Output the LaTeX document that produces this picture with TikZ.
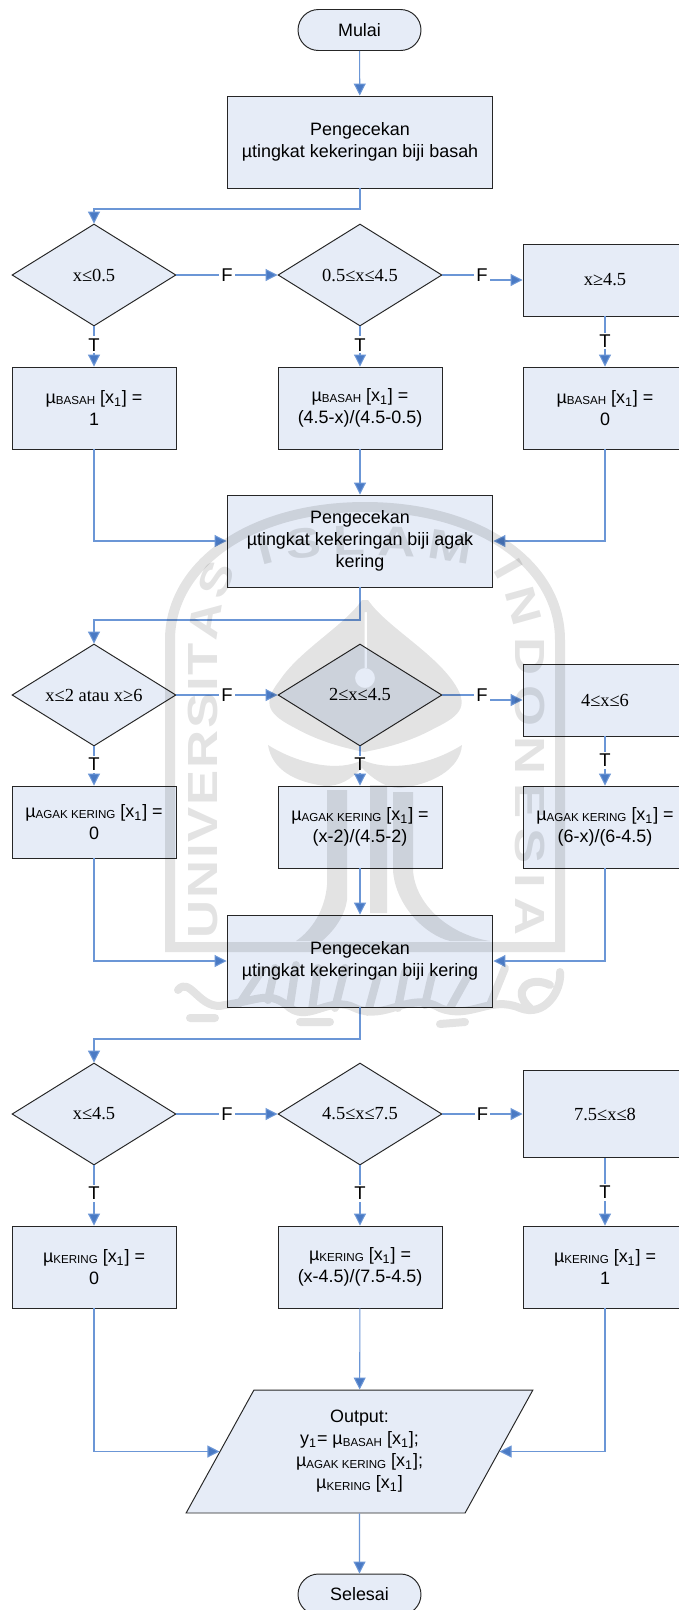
\documentclass[tikz,border=0pt]{standalone}
\usepackage{fontspec}
\usepackage{xcolor}
\setmainfont{Liberation Sans}
\newfontfamily\serifcond{Liberation Serif}
\newfontfamily\wmfam[FakeStretch=1.25]{Liberation Sans}
\usetikzlibrary{shapes,shapes.misc,shapes.geometric,arrows.meta,positioning,calc,decorations.text}
\definecolor{boxfill}{HTML}{E6ECF7}
\definecolor{flowblue}{HTML}{6B96D6}
\definecolor{tipblue}{HTML}{4A7AC4}
\newcommand{\mufx}[1]{µ\raisebox{-0.7pt}{\fontsize{6.6}{7}\selectfont #1}~[x\textsubscript{1}]}
\newcommand{\wmfont}{\wmfam\bfseries\fontsize{24}{24}\selectfont}
\tikzset{
    chart/.style={draw=black!85, fill=boxfill, line width=0.55pt, inner sep=0pt, align=center,
        font=\fontsize{10.2}{12.5}\selectfont},
    terminal/.style={chart, rounded rectangle, minimum width=2.46cm, minimum height=0.82cm},
    checkbox/.style={chart, rectangle, minimum width=5.32cm, minimum height=1.84cm},
    fnbox/.style={chart, rectangle, minimum width=3.28cm},
    rightbox/.style={chart, rectangle, minimum width=3.28cm, font=\serifcond\fontsize{10.5}{12.5}\selectfont},
    test/.style={chart, diamond, inner sep=-10pt, minimum width=3.28cm, minimum height=2.04cm, font=\serifcond\fontsize{10.5}{12.5}\selectfont},
    outbox/.style={chart, trapezium, trapezium left angle=63.6, trapezium right angle=116.4,
        trapezium stretches=true, minimum width=6.94cm, minimum height=2.46cm},
    flow/.style={draw=flowblue, line width=0.6pt, -{Triangle[length=0.24cm,width=0.24cm,fill=tipblue]}},
    flowline/.style={draw=flowblue, line width=0.6pt},
    lbl/.style={fill=white, inner sep=1.2pt, font=\fontsize{10.5}{12}\selectfont},
    wmband/.style={draw=black, line width=0.2cm},
    wmshape/.style={fill=black},
    wmstroke/.style={draw=black, line width=0.16cm, line cap=round, line join=round}
}
\begin{document}
\begin{tikzpicture}[x=0.02cm, y=-0.02cm]
    \fill[white] (0,0) rectangle (679,1610);
    \useasboundingbox (0,0) rectangle (679,1610);

    \node[terminal] (mulai) at (359.5,30) {Mulai};
    \node[checkbox] (cekA) at (360,142) {Pengecekan\\µtingkat kekeringan biji basah};
    \coordinate (bendA) at (94,209);
    \node[test] (tesA1) at (94,275) {x≤0.5};
    \node[test] (tesA2) at (360,275) {0.5≤x≤4.5};
    \node[rightbox, minimum height=1.44cm] (tesA3) at (605,280) {x≥4.5};
    \node[fnbox, minimum height=1.64cm] (fnA1) at (94,408) {\mufx{BASAH} =\\1};
    \node[fnbox, minimum height=1.64cm] (fnA2) at (360,408) {\mufx{BASAH} =\\(4.5-x)/(4.5-0.5)};
    \node[fnbox, minimum height=1.64cm] (fnA3) at (605,408) {\mufx{BASAH} =\\0};

    \node[checkbox] (cekB) at (360,541) {Pengecekan\\µtingkat kekeringan biji agak\\kering};
    \coordinate (bendB) at (94,620);
    \node[test] (tesB1) at (94,695) {x≤2 atau x≥6};
    \node[test] (tesB2) at (360,695) {2≤x≤4.5};
    \node[rightbox, minimum height=1.44cm] (tesB3) at (605,700) {4≤x≤6};
    \node[fnbox, minimum height=1.44cm] (fnB1) at (94,822) {\mufx{AGAK KERING} =\\0};
    \node[fnbox, minimum height=1.64cm] (fnB2) at (360,827) {\mufx{AGAK KERING} =\\(x-2)/(4.5-2)};
    \node[fnbox, minimum height=1.64cm] (fnB3) at (605,827) {\mufx{AGAK KERING} =\\(6-x)/(6-4.5)};

    \node[checkbox] (cekC) at (360,961) {Pengecekan\\µtingkat kekeringan biji kering};
    \coordinate (bendC) at (94,1039);
    \node[test] (tesC1) at (94,1114) {x≤4.5};
    \node[test] (tesC2) at (360,1114) {4.5≤x≤7.5};
    \node[rightbox, minimum height=1.74cm] (tesC3) at (605,1114) {7.5≤x≤8};
    \node[fnbox, minimum height=1.64cm] (fnC1) at (94,1267) {\mufx{KERING} =\\0};
    \node[fnbox, minimum height=1.64cm] (fnC2) at (360,1267) {\mufx{KERING} =\\(x-4.5)/(7.5-4.5)};
    \node[fnbox, minimum height=1.64cm] (fnC3) at (605,1267) {\mufx{KERING} =\\1};

    \node[outbox] (keluaran) at (359.5,1451.5) {Output:\\y\textsubscript{1}= \mufx{BASAH};\\\mufx{AGAK KERING};\\\mufx{KERING}};
    \node[terminal] (selesai) at (359.5,1594.5) {Selesai};

    \node[lbl] (fA) at (482,275) {F};
    \node[lbl] (fB) at (482,695) {F};

    \draw[flow] (mulai) -- (cekA);
    \draw[flow] (cekA.south) |- (bendA) -- (tesA1.north);
    \draw[flow] (tesA1) -- node[lbl] {F} (tesA2);
    \draw[flowline] (tesA2.east) -- (fA.west);
    \draw[flow] (fA.east |- tesA3.west) -- (tesA3.west);
    \draw[flow] (tesA1) -- node[lbl, pos=.46] {T} (fnA1);
    \draw[flow] (tesA2) -- node[lbl, pos=.46] {T} (fnA2);
    \draw[flow] (tesA3) -- node[lbl, pos=.49] {T} (fnA3);
    \draw[flow] (fnA1.south) |- (cekB.west);
    \draw[flow] (fnA2) -- (cekB);
    \draw[flow] (fnA3.south) |- (cekB.east);

    \draw[flow] (cekB.south) |- (bendB) -- (tesB1.north);
    \draw[flow] (tesB1) -- node[lbl] {F} (tesB2);
    \draw[flowline] (tesB2.east) -- (fB.west);
    \draw[flow] (fB.east |- tesB3.west) -- (tesB3.west);
    \draw[flow] (tesB1) -- node[lbl, pos=.46] {T} (fnB1);
    \draw[flow] (tesB2) -- node[lbl, pos=.46] {T} (fnB2);
    \draw[flow] (tesB3) -- node[lbl, pos=.49] {T} (fnB3);
    \draw[flow] (fnB1.south) |- (cekC.west);
    \draw[flow] (fnB2) -- (cekC);
    \draw[flow] (fnB3.south) |- (cekC.east);

    \draw[flow] (cekC.south) |- (bendC) -- (tesC1.north);
    \draw[flow] (tesC1) -- node[lbl] {F} (tesC2);
    \draw[flow] (tesC2) -- node[lbl] {F} (tesC3);
    \draw[flow] (tesC1) -- node[lbl, pos=.46] {T} (fnC1);
    \draw[flow] (tesC2) -- node[lbl, pos=.46] {T} (fnC2);
    \draw[flow] (tesC3) -- node[lbl, pos=.51] {T} (fnC3);
    \draw[flow] (fnC1.south) |- (keluaran.west);
    \draw[flow] (fnC2) -- (keluaran);
    \draw[flow] (fnC3.south) |- (keluaran.east);
    \draw[flow] (keluaran) -- (selesai);

    \begin{scope}[opacity=.11]
        \draw[wmband] (170,947) -- (170,640) .. controls (170,565) and (250,507) .. (365,507)
            .. controls (480,507) and (560,565) .. (560,640) -- (560,947) -- cycle;
        \path[decorate, decoration={text along path, text align={fit to path},
            text={|\wmfont|UNIVERSITAS}}] (217,938) -- (217,650) .. controls (217,620) and (225,590) .. (238,570);
        \path[decorate, decoration={text along path, text align={fit to path},
            text={|\wmfont|ISLAM}}] (262,566) .. controls (300,552) and (430,552) .. (470,566);
        \path[decorate, decoration={text along path, text align={fit to path},
            text={|\wmfont|INDONESIA}}] (492,570) .. controls (505,590) and (515,620) .. (515,650) -- (515,936);
        \fill[wmshape, even odd rule] (362,600) .. controls (345,625) and (300,650) .. (280,680)
            .. controls (260,705) and (270,715) .. (295,728)
            .. controls (320,742) and (345,748) .. (364,752)
            .. controls (385,748) and (410,742) .. (435,728)
            .. controls (462,715) and (470,705) .. (452,680)
            .. controls (430,650) and (385,625) .. (368,600) -- cycle
            (365,678) circle (10)
            (364.5,612) rectangle (367,668);
        \fill[wmshape] (268,745) .. controls (300,765) and (340,772) .. (362,760)
            .. controls (390,772) and (430,765) .. (462,745)
            .. controls (460,770) and (430,785) .. (400,788)
            .. controls (385,788) and (372,778) .. (362,768)
            .. controls (350,780) and (340,786) .. (325,786)
            .. controls (295,782) and (272,770) .. (268,745) -- cycle
            (327,790) -- (347,790) -- (347,900) .. controls (345,915) and (335,930) .. (322,941)
            -- (296,941) .. controls (312,930) and (325,910) .. (327,885) -- cycle
            (370,785) rectangle (387,913)
            (393,792) -- (413,792) -- (413,870) .. controls (415,905) and (450,935) .. (490,941)
            -- (450,941) .. controls (425,935) and (395,905) .. (393,870) -- cycle;
        \draw[wmstroke] (178,990) .. controls (190,975) and (200,1012) .. (225,1005)
            .. controls (260,1000) and (270,990) .. (290,1008) .. controls (310,1022) and (330,995) .. (355,1008)
            .. controls (385,1022) and (410,990) .. (440,1008) .. controls (470,1020) and (490,995) .. (520,1008)
            .. controls (545,1018) and (562,990) .. (560,972)
            (240,1003) -- (262,970)
            (268,1000) -- (275,968)
            (290,1005) -- (296,965)
            (312,1010) -- (318,968)
            (335,1008) -- (345,968)
            (368,1012) -- (378,975)
            (398,1008) -- (405,972)
            (425,1005) -- (432,975)
            (450,1008) -- (470,972)
            (490,1005) -- (505,968)
            (530,1008) .. controls (510,990) and (530,975) .. (550,985)
            (190,1018) -- (215,1018)
            (300,1022) -- (330,1022)
            (440,1024) -- (465,1022);
    \end{scope}
\end{tikzpicture}
\end{document}
